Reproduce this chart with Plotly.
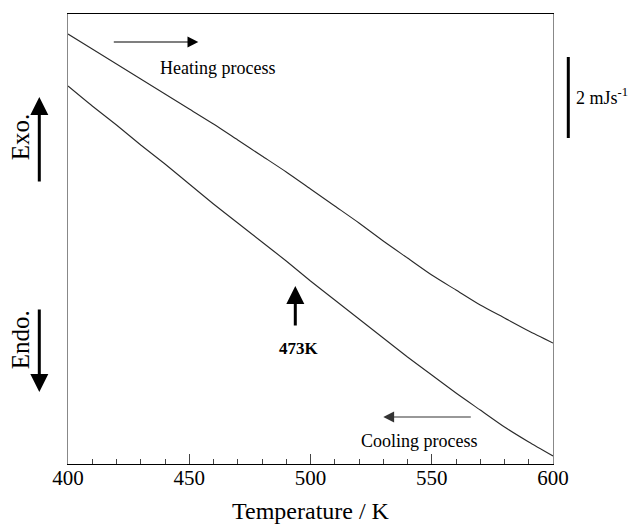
import plotly.graph_objects as go

# Temperature (K)
temperature = [400, 410, 420, 430, 440, 450, 460, 470, 480, 490, 500,
               510, 520, 530, 540, 550, 560, 570, 580, 590, 600]
# Heat flow (arbitrary units, exo up)
heating = [430, 415, 400, 385, 370, 355, 340, 324, 308, 292, 275,
           258, 241, 223, 206, 189, 174, 159, 146, 133, 121]
cooling = [378, 358, 339, 319, 300, 280, 260, 241, 222, 203, 183,
           164, 145, 126, 107, 89, 71, 54, 37, 22, 8]
x_ticks = [400, 450, 500, 550, 600]

W, H = 633, 528
L, R, T, B = 67.7, 552.7, 14, 464


def px(xp):
    return (xp - L) / (R - L)


def py(yp):
    return (B - yp) / (B - T)


SERIF = "Liberation Serif"

fig = go.Figure()
for ys in (heating, cooling):
    fig.add_trace(go.Scatter(x=temperature, y=ys, mode="lines",
                             line=dict(color="#2a2a2a", width=1.1,
                                       shape="spline", smoothing=0.6),
                             showlegend=False, hoverinfo="skip"))

annotations = []


def arrow(x_head, y_head, x_tail, y_tail, width, size, color="black"):
    annotations.append(dict(
        x=px(x_head), y=py(y_head), xref="paper", yref="paper",
        ax=x_tail - x_head, ay=y_tail - y_head, axref="pixel", ayref="pixel",
        text="", showarrow=True, arrowhead=2, arrowwidth=width,
        arrowsize=size, arrowcolor=color, standoff=0, startstandoff=0))


def label(x, y, text, size, angle=0, xanchor="center"):
    annotations.append(dict(
        x=px(x), y=py(y), xref="paper", yref="paper", text=text,
        showarrow=False, textangle=angle, xanchor=xanchor, yanchor="middle",
        font=dict(family=SERIF, size=size, color="black")))


# Heating process
arrow(198, 42, 112, 42, 1.2, 1.8)
label(217, 68, "Heating process", 18)
# Cooling process
arrow(383, 417, 472, 417, 1.2, 1.8, color="#333")
label(419, 441, "Cooling process", 18)
# 473K marker
arrow(295, 286, 295, 327, 3, 1.2)
label(299, 348, "<b>473K</b>", 17)
# Exo / Endo
arrow(39, 97, 39, 183, 3, 1.2)
label(20, 137, "Exo.", 25, angle=-90)
arrow(39, 392, 39, 308, 3, 1.2)
label(20, 340, "Endo.", 25, angle=-90)
# Scale bar
label(574, 97, "2 mJs<sup>-1</sup>", 18, xanchor="left")

shapes = [dict(type="line", xref="paper", yref="paper",
               x0=px(568), x1=px(568), y0=py(57), y1=py(138),
               line=dict(color="black", width=3))]

fig.update_layout(
    width=W, height=H,
    margin=dict(l=L, r=W - R, t=T, b=H - B, autoexpand=False),
    paper_bgcolor="white", plot_bgcolor="white",
    annotations=annotations, shapes=shapes,
    xaxis=dict(range=[400, 600], tickvals=x_ticks, ticks="inside",
               ticklen=10, tickwidth=1, tickcolor="#444",
               minor=dict(dtick=10, ticks="inside", ticklen=5,
                          tickcolor="#444", tickwidth=1, showgrid=False),
               showline=True, linecolor="black", linewidth=1, mirror=True,
               showgrid=False, zeroline=False, automargin=False,
               ticklabelstandoff=-5,
               tickfont=dict(family=SERIF, size=21, color="black"),
               title=dict(text="Temperature / K",
                          font=dict(family=SERIF, size=24, color="black"),
                          standoff=12)),
    yaxis=dict(range=[0, 450], showticklabels=False, ticks="",
               showline=True, linecolor="#888", linewidth=1, mirror=True,
               showgrid=False, zeroline=False, automargin=False),
)

fig.write_html("out.html")
